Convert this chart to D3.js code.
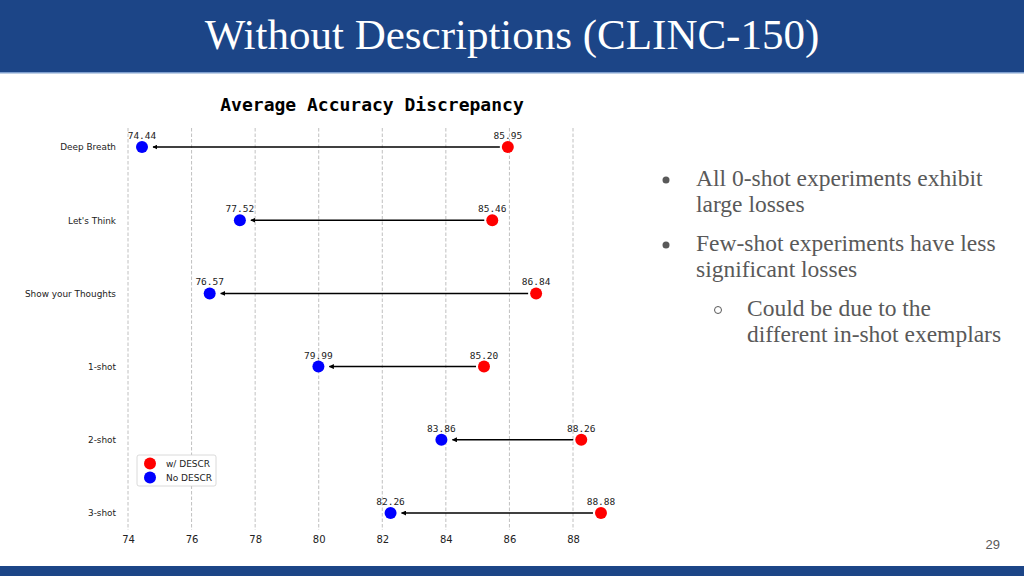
<!DOCTYPE html>
<html>
<head>
<meta charset="utf-8">
<script src="https://cdn.jsdelivr.net/npm/d3@7"></script>
<style>
  body { margin: 0; background: #fff; }
  svg { display: block; }
</style>
</head>
<body>
<div id="chart"></div>
<script>
// Data
const prompts = ["Deep Breath", "Let's Think", "Show your Thoughts", "1-shot", "2-shot", "3-shot"];
const withDescr = [85.95, 85.46, 86.84, 85.20, 88.26, 88.88];
const noDescr = [74.44, 77.52, 76.57, 79.99, 83.86, 82.26];
const xTicks = [74, 76, 78, 80, 82, 84, 86, 88];
const legendLabels = ["w/ DESCR", "No DESCR"];
const bullets = [
  { level: 0, lines: ["All 0-shot experiments exhibit", "large losses"] },
  { level: 0, lines: ["Few-shot experiments have less", "significant losses"] },
  { level: 1, lines: ["Could be due to the", "different in-shot exemplars"] }
];

const W = 1024, H = 576;
const svg = d3.select("#chart").append("svg")
  .attr("width", W).attr("height", H);

// Slide header + footer
svg.append("rect").attr("x", 0).attr("y", 0).attr("width", W).attr("height", 72).attr("fill", "#1c4587");
svg.append("rect").attr("x", 0).attr("y", 72).attr("width", W).attr("height", 1.5).attr("fill", "#7f9fce");
svg.append("rect").attr("x", 0).attr("y", 566).attr("width", W).attr("height", 10).attr("fill", "#1c4587");
svg.append("text")
  .attr("x", 512).attr("y", 49)
  .attr("text-anchor", "middle")
  .style("font-family", "'Liberation Serif', serif")
  .style("font-size", "43px")
  .attr("fill", "#fff")
  .text("Without Descriptions (CLINC-150)");

svg.append("text")
  .attr("x", 1000).attr("y", 549)
  .attr("text-anchor", "end")
  .style("font-family", "'Liberation Sans', Arial, sans-serif")
  .style("font-size", "13px")
  .attr("fill", "#595959")
  .text("29");

// Chart scales
const x = d3.scaleLinear().domain([74, 88]).range([128, 573]);
const y = d3.scalePoint().domain(prompts).range([147, 513]);

const chart = svg.append("g");

// Chart title
chart.append("text")
  .attr("x", 372).attr("y", 111)
  .attr("text-anchor", "middle")
  .style("font-family", "'DejaVu Sans Mono', monospace")
  .style("font-weight", "bold")
  .style("font-size", "18px")
  .attr("fill", "#000")
  .text("Average Accuracy Discrepancy");

// Dashed vertical grid
chart.selectAll(".grid")
  .data(xTicks)
  .enter().append("line")
  .attr("class", "grid")
  .attr("x1", d => x(d)).attr("x2", d => x(d))
  .attr("y1", 128).attr("y2", 530)
  .attr("stroke", "#b0b0b0")
  .attr("stroke-width", 0.8)
  .attr("stroke-dasharray", "3.5,2");

// X axis (labels only)
const xAxis = chart.append("g")
  .attr("transform", "translate(0,530)")
  .call(d3.axisBottom(x).tickValues(xTicks).tickSize(0).tickPadding(6));
xAxis.select(".domain").remove();
xAxis.selectAll("text")
  .style("font-family", "'DejaVu Sans', sans-serif")
  .style("font-size", "10px")
  .attr("fill", "#222");

// Y axis labels
const yAxis = chart.append("g")
  .attr("transform", "translate(128,0)")
  .call(d3.axisLeft(y).tickSize(0).tickPadding(12));
yAxis.select(".domain").remove();
yAxis.selectAll("text")
  .style("font-family", "'DejaVu Sans', sans-serif")
  .style("font-size", "8.9px")
  .attr("fill", "#222");

// Arrowhead
svg.append("defs").append("marker")
  .attr("id", "arrow")
  .attr("viewBox", "0 0 10 10")
  .attr("refX", 9).attr("refY", 5)
  .attr("markerWidth", 5).attr("markerHeight", 5)
  .attr("markerUnits", "userSpaceOnUse")
  .attr("orient", "auto")
  .append("path").attr("d", "M0,0L10,5L0,10Z").attr("fill", "#000");

const rows = prompts.map((p, i) => ({ p, w: withDescr[i], n: noDescr[i] }));

chart.selectAll(".arrow")
  .data(rows)
  .enter().append("line")
  .attr("class", "arrow")
  .attr("x1", d => x(d.w) - 8).attr("x2", d => x(d.n) + 11)
  .attr("y1", d => y(d.p)).attr("y2", d => y(d.p))
  .attr("stroke", "#000")
  .attr("stroke-width", 1.5)
  .attr("marker-end", "url(#arrow)");

chart.selectAll(".dotW")
  .data(rows)
  .enter().append("circle")
  .attr("cx", d => x(d.w)).attr("cy", d => y(d.p)).attr("r", 6)
  .attr("fill", "#ff0000");

chart.selectAll(".dotN")
  .data(rows)
  .enter().append("circle")
  .attr("cx", d => x(d.n)).attr("cy", d => y(d.p)).attr("r", 6)
  .attr("fill", "#0000ff");

const valueLabels = rows.flatMap(d => [{ p: d.p, v: d.w }, { p: d.p, v: d.n }]);
chart.selectAll(".val")
  .data(valueLabels)
  .enter().append("text")
  .attr("x", d => x(d.v)).attr("y", d => y(d.p) - 8)
  .attr("text-anchor", "middle")
  .style("font-family", "'DejaVu Sans Mono', monospace")
  .style("font-size", "9.5px")
  .attr("fill", "#222")
  .text(d => d.v.toFixed(2));

// Legend
const legend = chart.append("g").attr("transform", "translate(137,455)");
legend.append("rect")
  .attr("width", 79).attr("height", 31).attr("rx", 2)
  .attr("fill", "#fff").attr("stroke", "#d0d0d0").attr("stroke-width", 0.8);
const legendColors = ["#ff0000", "#0000ff"];
legendLabels.forEach((lbl, i) => {
  legend.append("circle").attr("cx", 13).attr("cy", 8.5 + i * 14).attr("r", 6).attr("fill", legendColors[i]);
  legend.append("text")
    .attr("x", 29).attr("y", 8.5 + i * 14).attr("dy", "0.35em")
    .style("font-family", "'DejaVu Sans', sans-serif")
    .style("font-size", "9px")
    .attr("fill", "#222")
    .text(lbl);
});

// Bullet text
const bulletG = svg.append("g");
let by = 186;
bullets.forEach((b, i) => {
  const bx = b.level === 0 ? 666 : 718;
  const tx = b.level === 0 ? 696 : 747;
  if (b.level === 0) {
    bulletG.append("circle").attr("cx", bx).attr("cy", by - 6).attr("r", 3.5).attr("fill", "#595959");
  } else {
    bulletG.append("circle").attr("cx", bx).attr("cy", by - 6).attr("r", 3.5)
      .attr("fill", "none").attr("stroke", "#595959").attr("stroke-width", 1);
  }
  b.lines.forEach((ln, j) => {
    bulletG.append("text")
      .attr("x", tx).attr("y", by + j * 25.5)
      .style("font-family", "'Liberation Serif', serif")
      .style("font-size", "23.5px")
      .attr("fill", "#595959")
      .text(ln);
  });
  by += 65;
});
</script>
</body>
</html>
